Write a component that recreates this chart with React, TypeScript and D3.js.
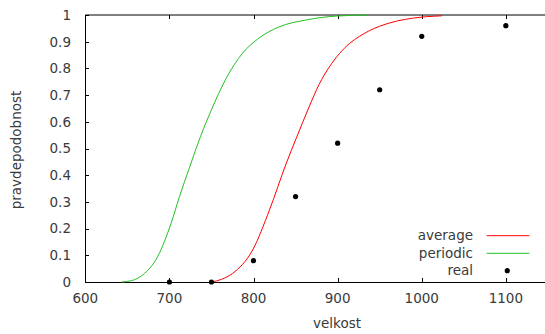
import * as d3 from 'd3';

// values
const periodicX = [643, 655, 668, 686, 702, 712, 724, 737, 750, 767, 787, 805, 830, 862, 898, 936];
const periodicY = [0, 0.005, 0.026, 0.095, 0.22, 0.32, 0.43, 0.545, 0.645, 0.76, 0.857, 0.91, 0.955, 0.981, 0.996, 1.0];

const averageX = [750, 762, 775, 799, 819, 839, 851, 866, 878, 890, 902, 914, 926, 937, 950, 970, 989, 1024];
const averageY = [0, 0.01, 0.032, 0.12, 0.27, 0.445, 0.54, 0.655, 0.74, 0.805, 0.855, 0.893, 0.92, 0.94, 0.958, 0.977, 0.988, 0.997];

const realX = [700, 750, 800, 850, 900, 950, 1000, 1100];
const realY = [0, 0, 0.08, 0.32, 0.52, 0.72, 0.92, 0.96];

const xTicks = [600, 700, 800, 900, 1000, 1100];
const yTicks = [0, 0.1, 0.2, 0.3, 0.4, 0.5, 0.6, 0.7, 0.8, 0.9, 1];

const legendItems = ['average', 'periodic', 'real'];

const W = 545;
const H = 334;
const FONT = '"DejaVu Sans", sans-serif';
const TEXT = '#3a3a3a';
const RED = '#ff0000';
const GREEN = '#22c022';

export default function App() {
  const x = d3.scaleLinear().domain([600, 1150]).range([85.3, 547.9]);
  const y = d3.scaleLinear().domain([0, 1]).range([282, 15]);

  const line = d3
    .line<[number, number]>()
    .x((d) => x(d[0]))
    .y((d) => y(d[1]))
    .curve(d3.curveMonotoneX);

  const periodic = periodicX.map((v, i) => [v, periodicY[i]] as [number, number]);
  const average = averageX.map((v, i) => [v, averageY[i]] as [number, number]);

  const legendY = [235.7, 253.3, 270.7];

  return (
    <svg
      width={W}
      height={H}
      style={{ position: 'absolute', left: 0, top: 0, background: '#fff' }}
      fontFamily={FONT}
    >
      {/* borders */}
      <line x1={x(600)} x2={W} y1={15} y2={15} stroke="#000" strokeWidth={1} />
      <line x1={x(600)} x2={W} y1={282.5} y2={282.5} stroke="#000" strokeWidth={1} />
      <line x1={85.5} x2={85.5} y1={15} y2={282.5} stroke="#000" strokeWidth={1} />

      {/* x ticks */}
      {xTicks.map((t) => (
        <g key={t}>
          <line x1={Math.round(x(t)) + 0.5} x2={Math.round(x(t)) + 0.5} y1={282} y2={278} stroke="#000" />
          <line x1={Math.round(x(t)) + 0.5} x2={Math.round(x(t)) + 0.5} y1={15} y2={19} stroke="#000" />
          <text x={x(t)} y={303} textAnchor="middle" fontSize={13.5} fill={TEXT}>
            {t}
          </text>
        </g>
      ))}

      {/* y ticks */}
      {yTicks.map((t) => (
        <g key={t}>
          <line x1={85} x2={89} y1={Math.round(y(t)) + 0.5} y2={Math.round(y(t)) + 0.5} stroke="#000" />
          <text x={71} y={y(t)} dy="0.36em" textAnchor="end" fontSize={13.5} fill={TEXT}>
            {d3.format('~g')(t)}
          </text>
        </g>
      ))}

      {/* axis titles */}
      <text x={337} y={328} textAnchor="middle" fontSize={13.5} fill={TEXT}>
        velkost
      </text>
      <text
        transform={`translate(21,150) rotate(-90)`}
        textAnchor="middle"
        fontSize={13.5}
        fill={TEXT}
      >
        pravdepodobnost
      </text>

      {/* curves */}
      <path d={line(periodic) ?? ''} fill="none" stroke={GREEN} strokeWidth={1} />
      <path d={line(average) ?? ''} fill="none" stroke={RED} strokeWidth={1} />

      {/* real data */}
      {realX.map((v, i) => (
        <circle key={v} cx={x(v)} cy={y(realY[i])} r={2.6} fill="#000" />
      ))}

      {/* legend */}
      {legendItems.map((name, i) => (
        <g key={name}>
          <text x={473} y={legendY[i]} dy="0.33em" textAnchor="end" fontSize={13.5} fill={TEXT}>
            {name}
          </text>
          {i < 2 ? (
            <line x1={486.7} x2={529.3} y1={legendY[i]} y2={legendY[i]} stroke={i === 0 ? RED : GREEN} />
          ) : (
            <circle cx={507.3} cy={legendY[i]} r={2.6} fill="#000" />
          )}
        </g>
      ))}
    </svg>
  );
}
